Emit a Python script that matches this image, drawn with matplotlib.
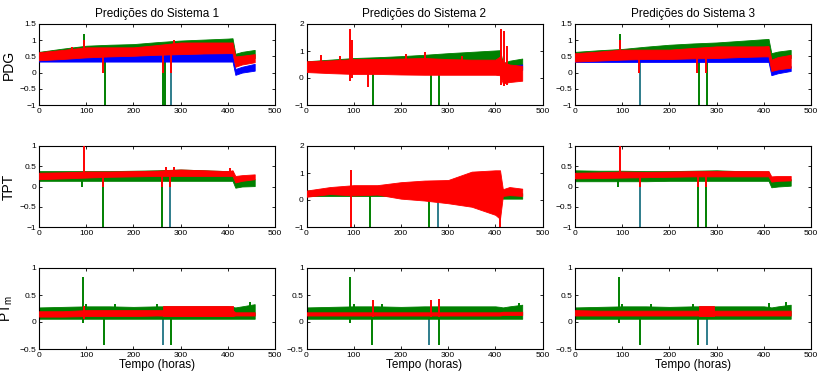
import matplotlib
matplotlib.use("Agg")
import matplotlib.pyplot as plt

plt.rcParams['font.family'] = ['Liberation Sans', 'DejaVu Sans']
plt.rcParams['mathtext.fontset'] = 'custom'
plt.rcParams['mathtext.rm'] = 'Liberation Sans'

# ---------------- data ----------------
T = [0, 50, 100, 150, 200, 250, 300, 350, 400, 410, 416, 430, 457]

TITLES = ["Predições do Sistema 1", "Predições do Sistema 2", "Predições do Sistema 3"]
ROW_LABELS = ["PDG", "TPT", "PT$_\\mathregular{m}$"]
XLABEL = "Tempo (horas)"

# PDG - sistema 1
P1_GREEN_LO = [0.45, 0.47, 0.50, 0.52, 0.55, 0.58, 0.60, 0.62, 0.65, 0.66, 0.35, 0.40, 0.45]
P1_GREEN_HI = [0.64, 0.74, 0.83, 0.86, 0.88, 0.94, 0.99, 1.02, 1.05, 1.06, 0.58, 0.64, 0.70]
P1_BLUE_LO = [0.34, 0.34, 0.34, 0.34, 0.34, 0.34, 0.34, 0.34, 0.34, 0.34, -0.07, 0.00, 0.06]
P1_BLUE_HI = [0.42, 0.45, 0.47, 0.50, 0.52, 0.55, 0.57, 0.59, 0.60, 0.60, 0.11, 0.18, 0.27]
P1_RED_LO = [0.38, 0.42, 0.47, 0.50, 0.52, 0.55, 0.57, 0.59, 0.60, 0.60, 0.18, 0.25, 0.32]
P1_RED_HI = [0.63, 0.70, 0.78, 0.78, 0.78, 0.85, 0.93, 0.93, 0.93, 0.93, 0.50, 0.52, 0.57]
P1_SPIKE_X = [95, 140, 263, 266, 280, 95, 135, 262, 280, 70, 285]
P1_SPIKE_LO = [0.70, -1.0, -1.0, -1.0, -1.0, 0.50, 0.00, 0.00, 0.00, 0.60, 0.70]
P1_SPIKE_HI = [1.20, 0.50, 0.50, 0.50, 0.50, 1.00, 0.50, 0.60, 0.60, 0.78, 1.00]
P1_SPIKE_C = ['g', 'g', 'g', 'g', 't', 'r', 'r', 'r', 'r', 'r', 'r']

# PDG - sistema 2
P2_GREEN_LO = [0.35, 0.38, 0.40, 0.42, 0.45, 0.48, 0.50, 0.52, 0.55, 0.55, 0.40, 0.45, 0.50]
P2_GREEN_HI = [0.62, 0.68, 0.74, 0.77, 0.81, 0.86, 0.92, 0.97, 1.02, 1.03, 0.55, 0.64, 0.72]
P2_BLUE_LO = [0.30, 0.30, 0.30, 0.30, 0.30, 0.30, 0.30, 0.30, 0.30, 0.30, 0.30, 0.30, 0.30]
P2_BLUE_HI = [0.50, 0.50, 0.52, 0.52, 0.55, 0.58, 0.62, 0.63, 0.64, 0.64, 0.40, 0.45, 0.50]
P2_RED_LO = [0.22, 0.18, 0.15, 0.15, 0.13, 0.12, 0.12, 0.12, 0.12, 0.10, -0.20, -0.15, -0.10]
P2_RED_HI = [0.62, 0.65, 0.70, 0.70, 0.72, 0.74, 0.70, 0.68, 0.68, 0.80, 0.60, 0.50, 0.45]
P2_SPIKE_X = [140, 263, 280, 30, 70, 93, 97, 130, 210, 250, 330, 412, 418, 425]
P2_SPIKE_LO = [-1.0, -1.0, -1.0, 0.20, 0.20, -0.10, 0.00, -0.35, 0.10, 0.10, 0.10, -0.25, -0.30, -0.25]
P2_SPIKE_HI = [0.50, 0.50, 0.50, 0.85, 0.80, 1.80, 1.40, 0.60, 0.90, 0.95, 0.82, 1.80, 1.75, 1.20]
P2_SPIKE_C = ['g', 'g', 'g', 'r', 'r', 'r', 'r', 'r', 'r', 'r', 'r', 'r', 'r', 'r']

# PDG - sistema 3
P3_GREEN_LO = [0.45, 0.47, 0.50, 0.52, 0.55, 0.58, 0.60, 0.62, 0.65, 0.66, 0.35, 0.40, 0.45]
P3_GREEN_HI = [0.64, 0.69, 0.73, 0.80, 0.86, 0.90, 0.93, 0.98, 1.03, 1.04, 0.60, 0.65, 0.70]
P3_BLUE_LO = [0.33, 0.33, 0.33, 0.33, 0.33, 0.33, 0.33, 0.33, 0.33, 0.33, -0.08, -0.02, 0.05]
P3_BLUE_HI = [0.40, 0.40, 0.42, 0.45, 0.47, 0.49, 0.50, 0.52, 0.55, 0.55, 0.05, 0.12, 0.20]
P3_RED_LO = [0.34, 0.37, 0.40, 0.42, 0.42, 0.44, 0.45, 0.48, 0.50, 0.50, 0.05, 0.10, 0.15]
P3_RED_HI = [0.60, 0.65, 0.71, 0.71, 0.71, 0.76, 0.81, 0.81, 0.81, 0.82, 0.40, 0.48, 0.55]
P3_SPIKE_X = [95, 138, 263, 280, 95, 135, 258, 277]
P3_SPIKE_LO = [0.70, -1.0, -1.0, -1.0, 0.50, 0.00, 0.00, 0.00]
P3_SPIKE_HI = [1.20, 0.40, 0.50, 0.50, 1.00, 0.50, 0.60, 0.60]
P3_SPIKE_C = ['g', 't', 'g', 'g', 'r', 'r', 'r', 'r']

# TPT - sistema 1
P4_GREEN_LO = [0.14, 0.14, 0.14, 0.14, 0.14, 0.14, 0.14, 0.14, 0.14, 0.14, -0.03, 0.00, 0.01]
P4_GREEN_HI = [0.38, 0.38, 0.38, 0.38, 0.39, 0.40, 0.42, 0.40, 0.38, 0.38, 0.12, 0.15, 0.18]
P4_RED_LO = [0.18, 0.20, 0.22, 0.24, 0.25, 0.26, 0.26, 0.26, 0.26, 0.26, 0.10, 0.14, 0.18]
P4_RED_HI = [0.34, 0.35, 0.37, 0.37, 0.38, 0.39, 0.42, 0.40, 0.38, 0.40, 0.26, 0.28, 0.30]
P4_SPIKE_X = [92, 135, 260, 278, 95, 135, 260, 278, 270, 286, 405]
P4_SPIKE_LO = [0.00, -1.0, -1.0, -1.0, 0.30, 0.00, 0.00, 0.00, 0.30, 0.30, 0.30]
P4_SPIKE_HI = [0.30, 0.20, 0.20, 0.20, 1.00, 0.30, 0.30, 0.30, 0.47, 0.47, 0.46]
P4_SPIKE_C = ['g', 'g', 'g', 't', 'r', 'r', 'r', 'r', 'r', 'r', 'r']

# TPT - sistema 2
P5_GREEN_LO = [0.15, 0.15, 0.15, 0.15, 0.15, 0.15, 0.15, 0.15, 0.15, 0.15, 0.05, 0.05, 0.05]
P5_GREEN_HI = [0.35, 0.35, 0.35, 0.35, 0.35, 0.35, 0.35, 0.35, 0.35, 0.35, 0.22, 0.25, 0.25]
P5_RED_LO = [0.12, 0.22, 0.17, 0.20, 0.05, -0.02, -0.12, -0.25, -0.55, -0.70, 0.15, 0.18, 0.15]
P5_RED_HI = [0.35, 0.48, 0.55, 0.55, 0.66, 0.72, 0.74, 1.05, 1.10, 1.10, 0.40, 0.48, 0.42]
P5_SPIKE_X = [135, 260, 278, 95, 410]
P5_SPIKE_LO = [-1.0, -1.0, -1.0, -1.0, -1.0]
P5_SPIKE_HI = [0.20, 0.20, 0.00, 1.10, 0.50]
P5_SPIKE_C = ['g', 'g', 't', 'r', 'r']

# TPT - sistema 3
P6_GREEN_LO = [0.13, 0.13, 0.13, 0.13, 0.14, 0.14, 0.14, 0.14, 0.14, 0.14, -0.02, 0.00, 0.02]
P6_GREEN_HI = [0.40, 0.39, 0.39, 0.38, 0.38, 0.39, 0.40, 0.38, 0.37, 0.37, 0.13, 0.16, 0.18]
P6_RED_LO = [0.20, 0.21, 0.22, 0.23, 0.24, 0.25, 0.25, 0.25, 0.25, 0.25, 0.12, 0.14, 0.15]
P6_RED_HI = [0.34, 0.35, 0.37, 0.36, 0.37, 0.38, 0.38, 0.38, 0.38, 0.38, 0.25, 0.26, 0.26]
P6_SPIKE_X = [92, 137, 260, 277, 95, 137, 260, 277]
P6_SPIKE_LO = [0.00, -1.0, -1.0, -1.0, 0.30, 0.00, 0.00, 0.00]
P6_SPIKE_HI = [0.30, 0.20, 0.20, 0.20, 1.00, 0.30, 0.30, 0.30]
P6_SPIKE_C = ['g', 't', 'g', 'g', 'r', 'r', 'r', 'r']

# PTm - sistema 1
P7_GREEN_LO = [0.06, 0.06, 0.06, 0.06, 0.06, 0.06, 0.06, 0.06, 0.06, 0.06, 0.06, 0.06, 0.06]
P7_GREEN_HI = [0.27, 0.28, 0.29, 0.29, 0.28, 0.29, 0.29, 0.29, 0.29, 0.28, 0.27, 0.29, 0.33]
P7_RED_LO = [0.10, 0.10, 0.11, 0.11, 0.11, 0.12, 0.11, 0.11, 0.11, 0.11, 0.12, 0.12, 0.12]
P7_RED_HI = [0.20, 0.20, 0.22, 0.22, 0.22, 0.22, 0.22, 0.22, 0.22, 0.22, 0.18, 0.18, 0.18]
P7_RED2_T = [262, 410]
P7_RED2_LO = [0.12, 0.12]
P7_RED2_HI = [0.30, 0.30]
P7_SPIKE_X = [93, 138, 263, 280, 95, 100, 160, 250, 448]
P7_SPIKE_LO = [-0.02, -0.42, -0.42, -0.42, 0.05, 0.20, 0.20, 0.20, 0.20]
P7_SPIKE_HI = [0.83, 0.10, 0.10, 0.10, 0.30, 0.34, 0.34, 0.34, 0.37]
P7_SPIKE_C = ['g', 'g', 't', 'g', 'r', 'g', 'g', 'g', 'g']

# PTm - sistema 2
P8_GREEN_LO = [0.06, 0.06, 0.06, 0.06, 0.06, 0.06, 0.06, 0.06, 0.06, 0.06, 0.06, 0.06, 0.06]
P8_GREEN_HI = [0.27, 0.28, 0.29, 0.29, 0.28, 0.29, 0.29, 0.29, 0.29, 0.28, 0.27, 0.29, 0.32]
P8_RED_LO = [0.12, 0.12, 0.12, 0.12, 0.12, 0.12, 0.12, 0.12, 0.12, 0.12, 0.13, 0.13, 0.13]
P8_RED_HI = [0.18, 0.18, 0.18, 0.18, 0.18, 0.18, 0.18, 0.18, 0.18, 0.18, 0.19, 0.19, 0.19]
P8_SPIKE_X = [93, 138, 260, 280, 140, 263, 280, 100, 160, 450]
P8_SPIKE_LO = [-0.02, -0.42, -0.42, -0.42, 0.10, 0.10, 0.10, 0.20, 0.20, 0.20]
P8_SPIKE_HI = [0.83, 0.10, 0.10, 0.10, 0.40, 0.40, 0.42, 0.33, 0.34, 0.36]
P8_SPIKE_C = ['g', 'g', 't', 'g', 'r', 'r', 'r', 'g', 'g', 'g']

# PTm - sistema 3
P9_GREEN_LO = [0.06, 0.06, 0.06, 0.06, 0.06, 0.06, 0.06, 0.06, 0.06, 0.06, 0.06, 0.06, 0.06]
P9_GREEN_HI = [0.27, 0.28, 0.29, 0.29, 0.28, 0.29, 0.29, 0.29, 0.29, 0.28, 0.27, 0.29, 0.32]
P9_RED_LO = [0.12, 0.12, 0.12, 0.12, 0.12, 0.12, 0.12, 0.12, 0.12, 0.12, 0.12, 0.12, 0.12]
P9_RED_HI = [0.22, 0.21, 0.21, 0.21, 0.21, 0.21, 0.21, 0.21, 0.21, 0.21, 0.21, 0.21, 0.21]
P9_RED2_T = [262, 295]
P9_RED2_LO = [0.12, 0.12]
P9_RED2_HI = [0.30, 0.30]
P9_SPIKE_X = [93, 138, 260, 280, 100, 160, 250, 410, 448]
P9_SPIKE_LO = [-0.02, -0.42, -0.42, -0.42, 0.20, 0.20, 0.20, 0.20, 0.20]
P9_SPIKE_HI = [0.83, 0.10, 0.10, 0.10, 0.33, 0.33, 0.34, 0.35, 0.37]
P9_SPIKE_C = ['g', 'g', 'g', 't', 'g', 'g', 'g', 'g', 'g']

# ---------------- styling ----------------
COLORS = {'g': (0, 0.5, 0), 'b': (0, 0, 1), 'r': (1, 0, 0), 't': '#2f7d8c'}
YLIMS = [[(-1, 1.5), (-1, 2), (-1, 1.5)],
         [(-1, 1), (-1, 2), (-1, 1)],
         [(-0.5, 1), (-0.5, 1), (-0.5, 1)]]
YTICKS = [[[-1, -0.5, 0, 0.5, 1, 1.5], [-1, 0, 1, 2], [-1, -0.5, 0, 0.5, 1, 1.5]],
          [[-1, -0.5, 0, 0.5, 1], [-1, 0, 1, 2], [-1, -0.5, 0, 0.5, 1]],
          [[-0.5, 0, 0.5, 1], [-0.5, 0, 0.5, 1], [-0.5, 0, 0.5, 1]]]

panels = [
    dict(bands=[(P1_GREEN_LO, P1_GREEN_HI, 'g'), (P1_BLUE_LO, P1_BLUE_HI, 'b'), (P1_RED_LO, P1_RED_HI, 'r')],
         spikes=(P1_SPIKE_X, P1_SPIKE_LO, P1_SPIKE_HI, P1_SPIKE_C)),
    dict(bands=[(P2_GREEN_LO, P2_GREEN_HI, 'g'), (P2_BLUE_LO, P2_BLUE_HI, 'b'), (P2_RED_LO, P2_RED_HI, 'r')],
         spikes=(P2_SPIKE_X, P2_SPIKE_LO, P2_SPIKE_HI, P2_SPIKE_C)),
    dict(bands=[(P3_GREEN_LO, P3_GREEN_HI, 'g'), (P3_BLUE_LO, P3_BLUE_HI, 'b'), (P3_RED_LO, P3_RED_HI, 'r')],
         spikes=(P3_SPIKE_X, P3_SPIKE_LO, P3_SPIKE_HI, P3_SPIKE_C)),
    dict(bands=[(P4_GREEN_LO, P4_GREEN_HI, 'g'), (P4_RED_LO, P4_RED_HI, 'r')],
         spikes=(P4_SPIKE_X, P4_SPIKE_LO, P4_SPIKE_HI, P4_SPIKE_C)),
    dict(bands=[(P5_GREEN_LO, P5_GREEN_HI, 'g'), (P5_RED_LO, P5_RED_HI, 'r')],
         spikes=(P5_SPIKE_X, P5_SPIKE_LO, P5_SPIKE_HI, P5_SPIKE_C)),
    dict(bands=[(P6_GREEN_LO, P6_GREEN_HI, 'g'), (P6_RED_LO, P6_RED_HI, 'r')],
         spikes=(P6_SPIKE_X, P6_SPIKE_LO, P6_SPIKE_HI, P6_SPIKE_C)),
    dict(bands=[(P7_GREEN_LO, P7_GREEN_HI, 'g'), (P7_RED_LO, P7_RED_HI, 'r')],
         extra=(P7_RED2_T, P7_RED2_LO, P7_RED2_HI),
         spikes=(P7_SPIKE_X, P7_SPIKE_LO, P7_SPIKE_HI, P7_SPIKE_C)),
    dict(bands=[(P8_GREEN_LO, P8_GREEN_HI, 'g'), (P8_RED_LO, P8_RED_HI, 'r')],
         spikes=(P8_SPIKE_X, P8_SPIKE_LO, P8_SPIKE_HI, P8_SPIKE_C)),
    dict(bands=[(P9_GREEN_LO, P9_GREEN_HI, 'g'), (P9_RED_LO, P9_RED_HI, 'r')],
         extra=(P9_RED2_T, P9_RED2_LO, P9_RED2_HI),
         spikes=(P9_SPIKE_X, P9_SPIKE_LO, P9_SPIKE_HI, P9_SPIKE_C)),
]

fig = plt.figure(figsize=(8.19, 3.76), dpi=100)
col_left = [39 / 819, 306.5 / 819, 575 / 819]
row_bottom = [1 - 105 / 376, 1 - 227 / 376, 1 - 349 / 376]
W, H = 236 / 819, 81 / 376

for r in range(3):
    for c in range(3):
        p = panels[r * 3 + c]
        ax = fig.add_axes([col_left[c], row_bottom[r], W, H])
        sx, slo, shi, sc = p['spikes']
        for x, lo, hi, cc in zip(sx, slo, shi, sc):
            if cc in ('g', 't'):
                ax.vlines(x, lo, hi, color=COLORS[cc], lw=1.4, zorder=1)
        for i, (lo, hi, cc) in enumerate(p['bands']):
            ax.fill_between(T, lo, hi, color=COLORS[cc], lw=0.6, edgecolor=COLORS[cc], zorder=2 + i)
        if 'extra' in p:
            et, elo, ehi = p['extra']
            ax.fill_between(et, elo, ehi, color=COLORS['r'], lw=0.6, edgecolor=COLORS['r'], zorder=6)
        for x, lo, hi, cc in zip(sx, slo, shi, sc):
            if cc == 'r':
                ax.vlines(x, lo, hi, color=COLORS[cc], lw=1.4, zorder=7)
        ax.set_xlim(0, 500)
        ax.set_ylim(*YLIMS[r][c])
        ax.set_xticks([0, 100, 200, 300, 400, 500])
        ax.set_yticks(YTICKS[r][c])
        ax.set_yticklabels([('%g' % v).replace('-', '\u2212') for v in YTICKS[r][c]])
        ax.tick_params(direction='in', length=2.5, width=0.6, labelsize=6, pad=2,
                       top=True, right=True, colors='black')
        for s in ax.spines.values():
            s.set_linewidth(0.8)
        if r == 0:
            ax.set_title(TITLES[c], fontsize=8.5, pad=5)
        if c == 0:
            ax.set_ylabel(ROW_LABELS[r], fontsize=10)
            ax.yaxis.set_label_coords(-0.1, 0.5)
        if r == 2:
            ax.set_xlabel(XLABEL, fontsize=8.5, labelpad=0)

fig.savefig("out.png", dpi=100)
